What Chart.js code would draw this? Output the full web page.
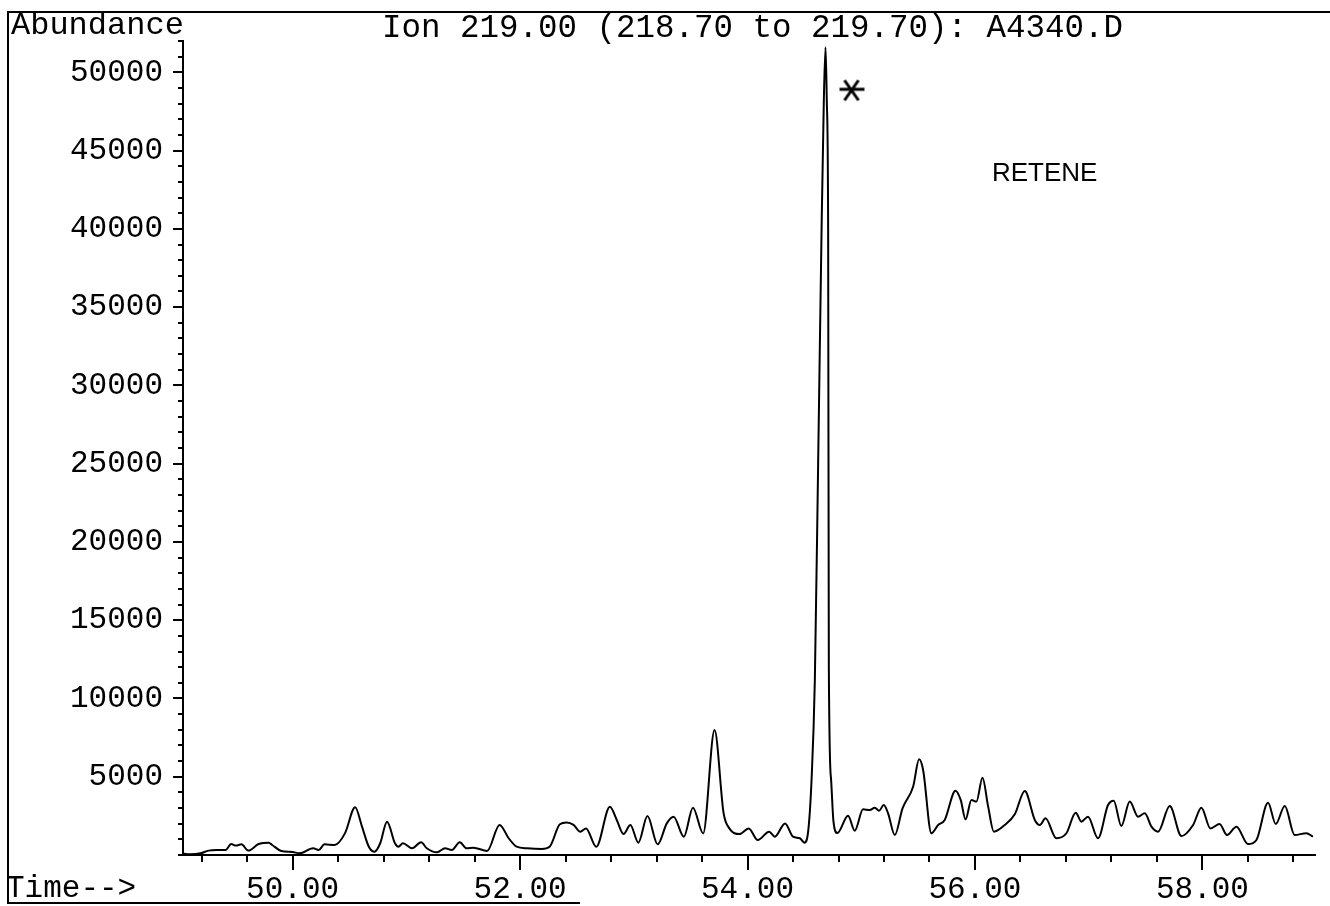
<!DOCTYPE html>
<html>
<head>
<meta charset="utf-8">
<script src="https://cdn.jsdelivr.net/npm/chart.js@4/dist/chart.umd.min.js"></script>
<style>
  html, body { margin: 0; padding: 0; background: #fff; }
  #wrap { width: 1330px; height: 906px; position: relative; }
</style>
</head>
<body>
<div id="wrap"><canvas id="ionChart"></canvas></div>
<script>
// retention time (min) and abundance
const times = [
  49.02, 49.10, 49.19, 49.26, 49.33, 49.41, 49.46, 49.50, 49.55, 49.61,
  49.70, 49.79, 49.82, 49.90, 50.00, 50.06, 50.18, 50.23, 50.28, 50.37,
  50.46, 50.55, 50.61, 50.67, 50.72, 50.77, 50.83, 50.90, 50.93, 50.97,
  51.05, 51.13, 51.18, 51.27, 51.34, 51.40, 51.47, 51.53, 51.59, 51.71,
  51.82, 51.90, 51.97, 52.06, 52.19, 52.26, 52.35, 52.41, 52.47, 52.53,
  52.58, 52.67, 52.79, 52.85, 52.91, 52.97, 53.04, 53.12, 53.21, 53.29,
  53.35, 53.44, 53.52, 53.61, 53.71, 53.79, 53.84, 53.93, 54.01, 54.09,
  54.19, 54.24, 54.33, 54.40, 54.46, 54.50, 54.533, 54.563, 54.592, 54.621,
  54.651, 54.671, 54.686, 54.697, 54.709, 54.715, 54.735, 54.755, 54.79, 54.884,
  54.943, 55.016, 55.075, 55.119, 55.157, 55.198, 55.236, 55.295, 55.363, 55.456,
  55.509, 55.544, 55.617, 55.676, 55.734, 55.829, 55.875, 55.917, 55.969, 56.013,
  56.066, 56.116, 56.166, 56.262, 56.35, 56.438, 56.526, 56.57, 56.62, 56.716,
  56.804, 56.886, 56.936, 56.994, 57.082, 57.17, 57.22, 57.287, 57.361, 57.434,
  57.493, 57.552, 57.61, 57.713, 57.815, 57.918, 57.991, 58.07, 58.151, 58.216,
  58.299, 58.401, 58.475, 58.577, 58.645, 58.724, 58.811, 58.914, 58.972
];
const abundance = [
  110, 50, 110, 280, 320, 320, 700, 600, 680, 280,
  700, 790, 640, 260, 190, 110, 430, 320, 680, 640,
  1380, 3050, 1810, 530, 210, 750, 2130, 750, 530, 750,
  430, 810, 430, 170, 430, 320, 810, 430, 470, 260,
  1920, 1070, 530, 430, 390, 530, 1960, 2070, 1920, 1490,
  1700, 530, 3080, 2240, 1340, 1920, 790, 2490, 680, 2020,
  2450, 1170, 3020, 1380, 7980, 2660, 1700, 1340, 1700, 960,
  1490, 1170, 2020, 1170, 1070, 790, 1490, 4790, 11180, 25000,
  39900, 48200, 51600, 48200, 39900, 12000, 4800, 2200, 1400, 2500,
  1550, 2920, 2870, 3020, 2830, 3190, 2660, 1280, 2980, 4360,
  6110, 5430, 1390, 1920, 2240, 4110, 3510, 2280, 3510, 3410,
  4940, 3090, 1490, 1920, 2600, 4090, 2240, 1920, 2340, 1070,
  1390, 2700, 2130, 2450, 1070, 3190, 3470, 1850, 3410, 2450,
  2660, 1810, 1490, 3130, 1210, 1920, 3020, 1700, 1980, 1280,
  1810, 700, 960, 3340, 1980, 3130, 1280, 1390, 1170
];

const titleText = 'Ion 219.00 (218.70 to 219.70): A4340.D';
const peakName = 'RETENE';
const markerTime = 54.914;
const markerAbundance = 48850;

function isMajorX(v) {
  const r = Math.round(v);
  return Math.abs(v - r) < 1e-6 && r % 2 === 0;
}
function isMajorY(v) {
  return v > 0 && v % 5000 === 0;
}

// asterisk used as the point style of the peak marker
const star = document.createElement('canvas');
star.width = 30; star.height = 26;
(function () {
  const c = star.getContext('2d');
  c.strokeStyle = '#000';
  c.lineWidth = 3;
  c.beginPath();
  c.moveTo(3, 12); c.lineTo(28, 12);
  c.moveTo(8, 3); c.lineTo(22, 23);
  c.moveTo(22, 3); c.lineTo(8, 23);
  c.stroke();
})();

const decor = {
  id: 'decor',
  afterDraw(chart) {
    const {ctx, chartArea} = chart;
    const xs = chart.scales.x, ys = chart.scales.y;
    ctx.save();
    ctx.strokeStyle = '#000';
    ctx.lineWidth = 2;
    ctx.beginPath();
    xs.ticks.forEach(t => {
      const px = Math.round(xs.getPixelForValue(t.value));
      ctx.moveTo(px, chartArea.bottom);
      ctx.lineTo(px, chartArea.bottom + (isMajorX(t.value) ? 15 : 7));
    });
    ys.ticks.forEach(t => {
      const py = Math.round(ys.getPixelForValue(t.value));
      ctx.moveTo(chartArea.left, py);
      ctx.lineTo(chartArea.left - (isMajorY(t.value) ? 10 : 5), py);
    });
    // outer frame of the printout
    ctx.moveTo(1330, 12); ctx.lineTo(8, 12); ctx.lineTo(8, 903); ctx.lineTo(580, 903);
    ctx.stroke();

    ctx.fillStyle = '#000';
    ctx.textBaseline = 'alphabetic';
    ctx.textAlign = 'left';
    ctx.font = '32px "Liberation Mono"';
    ctx.fillText('Abundance', 11, 34);
    ctx.font = '32.5px "Liberation Mono"';
    ctx.fillText(titleText, 382, 37);
    ctx.font = '31px "Liberation Mono"';
    ctx.fillText('Time-->', 6, 897);
    ctx.font = '26px "Liberation Sans"';
    ctx.fillText(peakName, 992, 181);
    ctx.restore();
  }
};

Chart.defaults.font.family = '"Liberation Mono"';
Chart.defaults.color = '#000';

new Chart(document.getElementById('ionChart'), {
  type: 'line',
  data: {
    datasets: [{
      label: 'Ion 219.00',
      data: times.map((t, i) => ({x: t, y: abundance[i]})),
      borderColor: '#000',
      borderWidth: 2,
      pointRadius: 0,
      cubicInterpolationMode: 'monotone',
      fill: false
    }, {
      label: 'marker',
      data: [{x: markerTime, y: markerAbundance}],
      showLine: false,
      pointStyle: star,
      pointRadius: 12
    }]
  },
  options: {
    responsive: true,
    maintainAspectRatio: false,
    animation: false,
    events: [],
    layout: { padding: { top: 41, right: 15, left: 0, bottom: 0 } },
    plugins: {
      legend: { display: false },
      tooltip: { enabled: false }
    },
    scales: {
      x: {
        type: 'linear',
        min: 49.036,
        max: 58.99,
        grid: { display: false, drawTicks: false },
        border: { display: true, color: '#000', width: 2 },
        ticks: {
          stepSize: 0.4,
          includeBounds: false,
          autoSkip: false,
          maxRotation: 0,
          minRotation: 0,
          padding: 16,
          font: { size: 31 },
          callback: v => isMajorX(v) ? Math.round(v).toFixed(2) : ''
        },
        afterFit: s => { s.height = 51; }
      },
      y: {
        type: 'linear',
        min: 0,
        max: 52000,
        grid: { display: false, drawTicks: false },
        border: { display: true, color: '#000', width: 2 },
        ticks: {
          stepSize: 1000,
          autoSkip: false,
          padding: 20,
          font: { size: 31 },
          callback: v => isMajorY(v) ? String(v) : ''
        },
        afterFit: s => { s.width = 183; }
      }
    }
  },
  plugins: [decor]
});
</script>
</body>
</html>
